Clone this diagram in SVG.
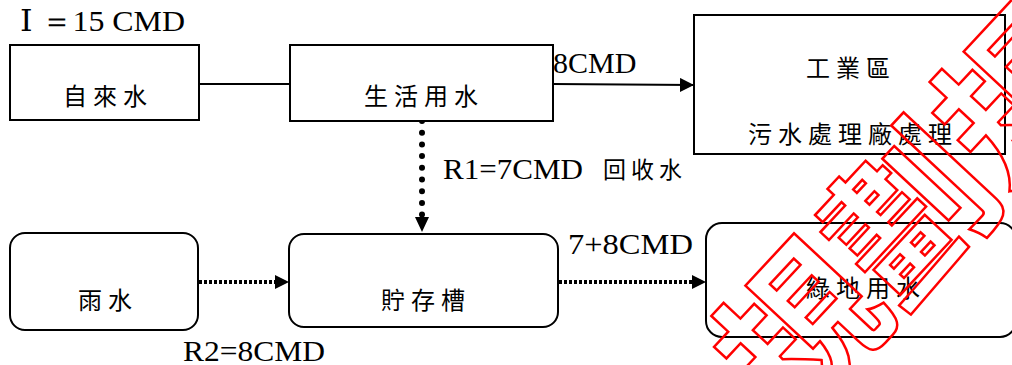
<svg xmlns="http://www.w3.org/2000/svg" width="1012" height="365" viewBox="0 0 1012 365">
<defs>
<style>
.box{fill:#fff;stroke:#000;stroke-width:2}
.cjk{font-family:"Noto Sans CJK TC","Noto Sans CJK SC",sans-serif;font-size:24px;fill:#000;text-anchor:middle;dominant-baseline:central;letter-spacing:6px}
.lat{font-family:"Liberation Serif","DejaVu Serif","Times New Roman",serif;font-size:30px;fill:#000}
.solid{fill:none;stroke:#000;stroke-width:2}
.sq{fill:none;stroke:#000;stroke-width:4;stroke-dasharray:3 2}
.rd{fill:none;stroke:#000;stroke-width:6;stroke-linecap:round;stroke-dasharray:0 11.7}
.wm{font-family:"Noto Sans CJK TC",sans-serif;font-weight:700;font-size:160px;fill:none;stroke:#f00;stroke-width:2.5;text-anchor:middle;dominant-baseline:central}
</style>
<marker id="ah" viewBox="0 0 10 10" refX="10" refY="5" markerWidth="14" markerHeight="14" markerUnits="userSpaceOnUse" orient="auto">
<path d="M0,0 L10,5 L0,10 Z" fill="#000"/>
</marker>
</defs>
<rect width="1012" height="365" fill="#fff"/>
<g id="connectors">
<line class="solid" x1="199" y1="84" x2="290" y2="84"/>
<line class="solid" x1="553" y1="84" x2="694" y2="85" marker-end="url(#ah)"/>
<line class="rd" x1="422" y1="121" x2="422" y2="216"/>
<path d="M415,217 L429,217 L422,232 Z" fill="#000"/>
<line class="sq" x1="199" y1="282" x2="276" y2="282"/>
<path d="M275,275 L289,282 L275,289 Z" fill="#000"/>
<line class="sq" x1="559" y1="282" x2="693" y2="282"/>
<path d="M692,275 L706,282 L692,289 Z" fill="#000"/>
</g>
<text class="lat" x="20" y="31" textLength="165" lengthAdjust="spacingAndGlyphs">Ⅰ ＝15 CMD</text>
<text class="lat" x="553" y="73">8CMD</text>
<text class="lat" x="443" y="179" textLength="140" lengthAdjust="spacingAndGlyphs">R1=7CMD</text>
<text class="cjk" x="645" y="168" style="font-size:23px;letter-spacing:5px">回收水</text>
<text class="lat" x="568" y="254" textLength="125" lengthAdjust="spacingAndGlyphs">7+8CMD</text>
<text class="lat" x="183" y="361" textLength="142" lengthAdjust="spacingAndGlyphs">R2=8CMD</text>
<g id="n-tapwater">
<rect class="box" x="10" y="45" width="189" height="75"/>
<text class="cjk" x="108" y="94">自來水</text>
</g>
<g id="n-domestic">
<rect class="box" x="290" y="45" width="263" height="76"/>
<text class="cjk" x="424" y="94">生活用水</text>
</g>
<g id="n-industrial">
<rect class="box" x="694" y="15" width="311" height="139"/>
<text class="cjk" x="851" y="66">工業區</text>
<text class="cjk" x="853" y="132">污水處理廠處理</text>
</g>
<g id="n-rain">
<rect class="box" x="10" y="233" width="188" height="97" rx="15"/>
<text class="cjk" x="108" y="298">雨水</text>
</g>
<g id="n-tank">
<rect class="box" x="289" y="234" width="269" height="93" rx="15"/>
<text class="cjk" x="426" y="298">貯存槽</text>
</g>
<g id="n-green">
<rect class="box" x="706" y="223" width="310" height="114" rx="16"/>
<text class="cjk" x="866" y="286">綠地用水</text>
</g>
<g id="watermark">
<text class="wm" x="902" y="206" transform="rotate(-47 902 206)">規劃規</text>
</g>
</svg>
